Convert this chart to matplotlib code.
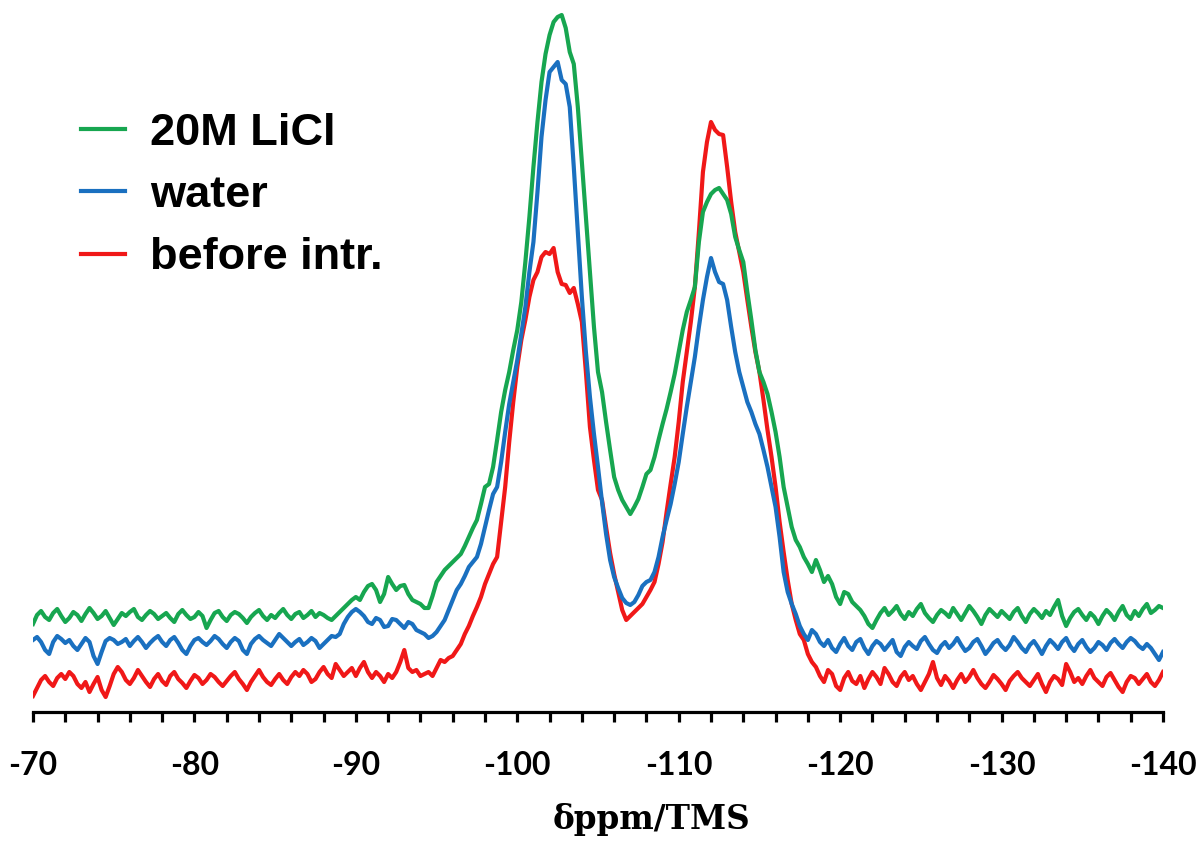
import numpy as np
import matplotlib.pyplot as plt
from matplotlib.ticker import MultipleLocator
from matplotlib.lines import Line2D

plt.rcParams['axes.unicode_minus'] = False

# chemical shift axis, -70 .. -140 ppm every 0.25 ppm
ppm = np.linspace(-70, -140, 281)

# intensities (arbitrary units, axis line = 0)
licl = [88, 97, 101, 95, 92, 99, 103, 96, 90, 94, 100, 97, 91, 98, 104, 99,
        93, 96, 101, 94, 87, 93, 99, 96, 100, 103, 95, 92, 97, 101, 98, 93,
        96, 99, 94, 90, 98, 102, 97, 93, 95, 100, 96, 84, 92, 99, 101, 95,
        91, 97, 100, 98, 94, 89, 95, 99, 102, 96, 92, 97, 94, 99, 103, 97,
        93, 98, 100, 94, 97, 101, 95, 99,
        97, 94, 92, 96, 100, 104, 108, 112, 115, 112,
        120, 126, 128, 122, 110, 118, 135, 128, 122, 126,
        127, 118, 112, 110, 108, 104, 104, 116, 130, 136,
        142, 146, 150, 154, 158, 166, 175, 184, 192, 208,
        225,
        228, 245, 272, 300, 322, 340, 362, 382, 410, 450,
        495, 545, 590, 630, 658, 677, 690, 695, 697, 684,
        660, 648, 605, 550, 495, 440, 385, 340, 320, 290,
        262, 235, 222, 212, 205, 198, 205, 213, 225, 238,
        242, 255, 272, 288, 303, 320, 338, 360, 382, 400,
        412, 425, 470, 500, 510, 518, 522, 524, 518, 512,
        498, 475, 462, 450, 420, 392, 362, 340, 330, 318,
        300, 280, 255, 225, 205, 185, 172, 165, 155, 148,
        140, 152, 142, 130, 136, 128, 115, 108, 120, 118,
        110, 106,
        102, 96, 88, 84, 92, 99, 104, 97, 101, 106, 98, 93, 100, 96, 103, 108,
        99, 94, 90, 97, 102, 99, 95, 104, 98, 92, 99, 106, 101, 95, 88, 97,
        103, 99, 95, 101, 97, 93, 100, 104, 96, 90, 98, 103, 99, 94, 101, 97,
        105, 112, 96, 86, 94, 100, 103, 97, 92, 99, 95, 88, 96, 102, 98, 92,
        100, 106, 97, 93, 101, 96, 103, 108, 99, 102, 106, 104]

water = [72, 75, 70, 62, 58, 70, 76, 73, 69, 72, 66, 62, 68, 74, 70, 56,
         48, 60, 71, 74, 72, 68, 70, 73, 66, 71, 75, 70, 64, 69, 73, 76,
         70, 66, 72, 75, 69, 62, 58, 66, 72, 74, 70, 67, 71, 76, 73, 68,
         64, 70, 74, 71, 62, 58, 68, 73, 76, 72, 69, 66, 72, 78, 74, 70,
         66, 70, 73, 67, 70, 74, 71, 64, 68, 72, 76, 75,
         78, 88, 95, 100, 103, 100, 96, 90, 88, 94,
         92, 85, 86, 93, 92, 88, 84, 90, 88, 82,
         80, 78, 74, 76, 80, 86, 92, 102, 112, 122,
         128, 136, 145, 150, 155, 168, 185, 202, 218, 225,
         250, 280, 308, 330, 352, 378, 405, 440, 470, 520,
         575, 612, 640, 645, 650, 632, 628, 605, 545, 480,
         415, 360, 315, 278, 245, 210, 178, 152, 135, 124,
         114, 109, 107, 110, 117, 126, 130, 132, 140, 155,
         175, 192, 208, 228, 250, 278, 305, 330, 355, 385,
         412, 435, 454, 440, 430, 428, 412, 385, 360, 340,
         325, 310, 300, 288, 278, 262, 245, 225, 205, 175,
         140, 120, 108, 98, 86, 78, 72, 82, 78, 70,
         66, 72, 64, 60, 68, 74, 66, 62, 70, 73, 64, 58, 66, 71, 68, 62,
         67, 72, 60, 56, 65, 70, 66, 63, 71, 75, 68, 62, 59, 66, 70, 64,
         68, 74, 67, 61, 64, 70, 73, 66, 58, 63, 69, 72, 66, 62, 67, 75,
         70, 64, 60, 67, 71, 65, 58, 66, 72, 68, 63, 70, 74, 66, 61, 68,
         72, 65, 60, 64, 70, 67, 62, 69, 73, 68, 64, 70, 74, 71, 66, 63,
         68, 64, 58, 52, 60]

before = [16, 24, 32, 36, 30, 26, 34, 38, 33, 40, 36, 28, 24, 30, 20, 28,
          35, 22, 15, 26, 38, 45, 40, 32, 28, 34, 42, 36, 30, 25, 33, 38,
          31, 27, 36, 40, 33, 29, 24, 31, 37, 34, 28, 32, 38, 35, 30, 26,
          31, 36, 40, 33, 28, 22, 30, 36, 42, 35, 30, 27, 33, 38, 32, 28,
          35, 40, 36, 42, 38, 30, 33, 40, 45, 38, 34, 48, 42, 36, 40, 44,
          36, 44, 50, 40, 34, 40, 36, 30, 38, 34, 40, 50, 62, 44, 40, 42,
          36, 38, 40, 36, 44, 52,
          50, 54, 56, 62, 68, 78, 86, 96, 105, 115,
          128, 138, 148, 155, 190, 225, 270, 310, 345, 372,
          392, 415, 432, 440, 455, 460, 458, 464, 440, 428,
          427, 419, 424, 408, 390, 340, 285, 252, 222, 212,
          185, 159, 138, 120, 102, 92, 96, 100, 104, 108,
          115, 122, 130, 148, 170, 200, 228, 255, 290, 330,
          360, 390, 425, 480, 540, 570, 590, 582, 578, 577,
          545, 510, 480, 460, 440, 412, 385, 360, 340, 312,
          282, 255, 225, 190, 160, 132, 108, 92, 78, 72,
          58, 50, 45, 36,
          30, 42, 38, 26, 22, 34, 40, 31, 28, 36, 24, 33, 40, 35, 28, 44,
          38, 30, 26, 35, 40, 32, 36, 28, 22, 30, 38, 50, 34, 27, 36, 31,
          24, 32, 38, 30, 35, 42, 34, 28, 24, 30, 37, 33, 28, 22, 31, 36,
          40, 34, 30, 26, 32, 38, 28, 20, 30, 36, 33, 27, 48, 40, 30, 34,
          28, 36, 42, 34, 30, 26, 35, 39, 32, 25, 20, 30, 36, 34, 28, 33,
          38, 30, 26, 32, 40]

labels = ['20M LiCl', 'water', 'before intr.']
colors = ['#17A650', '#1A70C0', '#F01818']

fig = plt.figure(figsize=(12.03, 8.44), dpi=100)
ax = fig.add_axes([33/1203, 132/844, 1130/1203, 712/844])

lw = 3.0
ax.plot(ppm, before, color=colors[2], lw=lw, solid_joinstyle='round')
ax.plot(ppm, water, color=colors[1], lw=lw, solid_joinstyle='round')
ax.plot(ppm, licl, color=colors[0], lw=lw, solid_joinstyle='round')

ax.set_xlim(-70, -140)
ax.set_ylim(0, 712)

for s in ['left', 'top', 'right']:
    ax.spines[s].set_visible(False)
ax.spines['bottom'].set_linewidth(2.3)
ax.set_yticks([])

ax.xaxis.set_major_locator(MultipleLocator(10))
ax.xaxis.set_minor_locator(MultipleLocator(2))
ax.tick_params(axis='x', which='both', direction='out', length=7, width=2.3, pad=21)
for t in ax.get_xticklabels():
    t.set_fontfamily('Lato')
    t.set_fontweight('bold')
    t.set_fontsize(23)

fig.text(651/1203, 1 - 820/844, 'δppm/TMS', ha='center', va='center',
         fontsize=23.5, fontweight='bold', family='DejaVu Serif')

handles = [Line2D([], [], color=c, lw=lw) for c in colors]
ax.legend(handles, labels, loc='upper left', bbox_to_anchor=(30/1130, 1 - 95/712),
          frameon=False, handlelength=0.97, handletextpad=0.55, labelspacing=0.47,
          borderaxespad=0, prop={'family': 'Liberation Sans', 'weight': 'bold', 'size': 32.5})

fig.savefig('out.png', dpi=100)
